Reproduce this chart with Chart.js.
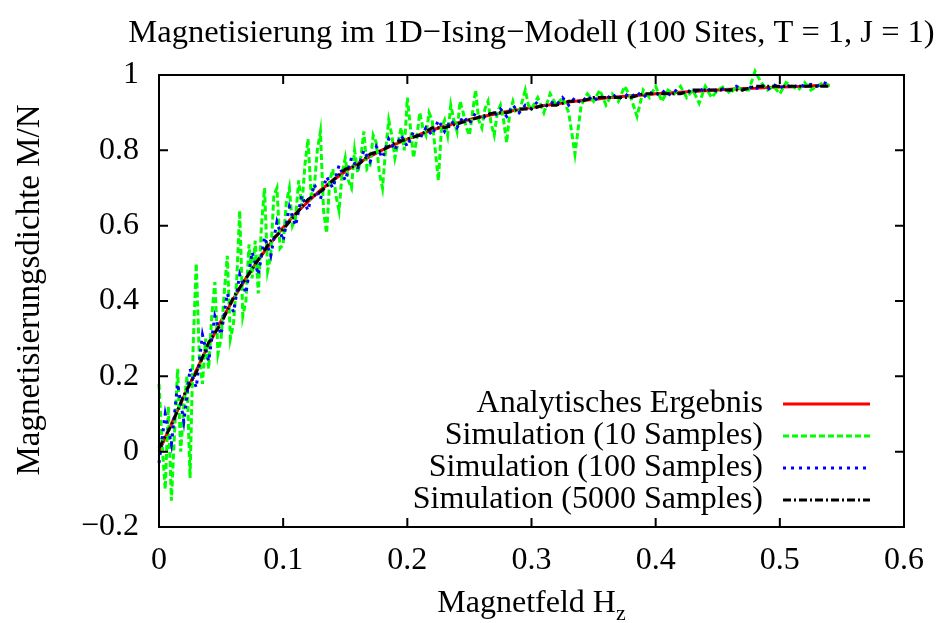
<!DOCTYPE html>
<html>
<head>
<meta charset="utf-8">
<script src="https://cdn.jsdelivr.net/npm/chart.js@4.4.0/dist/chart.umd.min.js"></script>
<style>
  html, body { margin: 0; padding: 0; background: #fff; }
  canvas { display: block; }
</style>
</head>
<body>
<canvas id="chart" width="938" height="623"></canvas>
<script>
// field values (H_z)
var hCoarse = [0,0.01,0.02,0.03,0.04,0.05,0.06,0.07,0.08,0.09,0.10,0.11,0.12,0.13,0.14,0.15,0.16,0.17,0.18,0.19,
  0.20,0.21,0.22,0.23,0.24,0.25,0.26,0.27,0.28,0.29,0.30,0.31,0.32,0.33,0.34,0.35,0.36,0.37,0.38,0.39,
  0.40,0.41,0.42,0.43,0.44,0.45,0.46,0.47,0.48,0.49,0.50,0.51,0.52,0.53,0.54];
var hFine = [0,0.005,0.01,0.015,0.02,0.025,0.03,0.035,0.04,0.045,0.05,0.055,0.06,0.065,0.07,0.075,0.08,0.085,0.09,0.095,
  0.10,0.105,0.11,0.115,0.12,0.125,0.13,0.135,0.14,0.145,0.15,0.155,0.16,0.165,0.17,0.175,0.18,0.185,0.19,0.195,
  0.20,0.205,0.21,0.215,0.22,0.225,0.23,0.235,0.24,0.245,0.25,0.255,0.26,0.265,0.27,0.275,0.28,0.285,0.29,0.295,
  0.30,0.305,0.31,0.315,0.32,0.325,0.33,0.335,0.34,0.345,0.35,0.355,0.36,0.365,0.37,0.375,0.38,0.385,0.39,0.395,
  0.40,0.405,0.41,0.415,0.42,0.425,0.43,0.435,0.44,0.445,0.45,0.455,0.46,0.465,0.47,0.475,0.48,0.485,0.49,0.495,
  0.50,0.505,0.51,0.515,0.52,0.525,0.53,0.535,0.54];
var hGreen = [0,0.0025,0.005,0.0075,0.01,0.0125,0.015,0.0175,0.02,0.0225,0.025,0.0275,0.03,0.0325,0.035,0.0375,
  0.04,0.0425,0.045,0.0475,0.05,0.0525,0.055,0.0575,0.06,0.0625,0.065,0.0675,0.07,0.0725,0.075,0.0775,
  0.08,0.0825,0.085,0.0875,0.09,0.0925,0.095,0.0975,0.10,0.1025,0.105,0.1075,0.11,0.1125,0.115,0.1175,
  0.12,0.1225,0.125,0.1275,0.13,0.1325,0.135,0.1375,0.14,0.1425,0.145,0.1475,0.15,0.1525,0.155,0.1575,
  0.16,0.1625,0.165,0.1675,0.17,0.1725,0.175,0.1775,0.18,0.1825,0.185,0.1875,0.19,0.1925,0.195,0.1975,
  0.20,0.2025,0.205,0.2075,0.21,0.2125,0.215,0.2175,0.22,0.2225,0.225,0.2275,0.23,0.2325,0.235,0.2375,
  0.24,0.2425,0.245,0.2475,0.25,0.2525,0.255,0.2575,0.26,0.2625,0.265,0.2675,0.27,0.2725,0.275,0.2775,
  0.28,0.2825,0.285,0.2875,0.29,0.2925,0.295,0.2975,0.30,
  0.305,0.31,0.315,0.32,0.325,0.33,0.335,0.34,0.345,0.35,0.355,0.36,0.365,0.37,0.375,0.38,0.385,0.39,0.395,
  0.40,0.405,0.41,0.415,0.42,0.425,0.43,0.435,0.44,0.445,0.45,0.455,0.46,0.465,0.47,0.475,0.48,0.485,0.49,0.495,
  0.50,0.505,0.51,0.515,0.52,0.525,0.53,0.535,0.54];

var analytic = [0,0.074,0.146,0.216,0.284,0.347,0.406,0.460,0.509,0.554,0.595,0.632,0.664,0.694,0.720,0.744,0.765,0.784,0.801,0.816,
  0.830,0.842,0.854,0.864,0.873,0.882,0.889,0.896,0.903,0.908,0.914,0.919,0.923,0.928,0.932,0.935,0.939,0.942,0.945,0.947,
  0.950,0.952,0.954,0.956,0.958,0.960,0.962,0.964,0.965,0.967,0.968,0.969,0.970,0.972,0.973];

var sim10 = [0.18,0.02,-0.10,0.12,-0.13,0.05,0.22,0.00,0.12,0.20,-0.07,0.28,0.50,0.25,0.18,0.30,
  0.22,0.36,0.45,0.26,0.30,0.42,0.52,0.30,0.34,0.45,0.64,0.36,0.40,0.55,0.46,0.56,
  0.42,0.60,0.70,0.48,0.52,0.68,0.70,0.54,0.55,0.66,0.70,0.60,0.62,0.72,0.65,0.76,
  0.83,0.68,0.70,0.80,0.85,0.64,0.58,0.72,0.75,0.68,0.64,0.74,0.78,0.72,0.70,0.80,
  0.74,0.78,0.85,0.75,0.76,0.84,0.82,0.74,0.70,0.80,0.88,0.84,0.78,0.82,0.86,0.80,
  0.94,0.86,0.78,0.83,0.90,0.86,0.84,0.90,0.88,0.80,0.72,0.86,0.88,0.84,0.92,0.88,
  0.85,0.93,0.90,0.86,0.84,0.90,0.96,0.88,0.86,0.91,0.93,0.87,0.84,0.90,0.92,0.88,
  0.82,0.90,0.93,0.90,0.90,0.93,0.96,0.92,0.91,
  0.94,0.90,0.95,0.92,0.94,0.90,0.79,0.92,0.95,0.93,0.96,0.92,0.95,0.93,0.97,0.94,0.89,0.96,0.94,
  0.97,0.93,0.96,0.95,0.97,0.94,0.96,0.925,0.97,0.94,0.96,0.97,0.95,0.97,0.96,0.96,1.01,0.98,0.96,0.97,
  0.95,0.98,0.97,0.96,0.98,0.96,0.97,0.98,0.97];

var sim100 = [-0.03,0.10,0.02,0.18,0.08,0.22,0.17,0.31,0.24,0.36,
  0.31,0.42,0.37,0.47,0.42,0.53,0.47,0.57,0.52,0.61,
  0.56,0.65,0.60,0.68,0.64,0.71,0.67,0.73,0.70,0.76,
  0.72,0.78,0.75,0.80,0.77,0.81,0.78,0.83,0.80,0.84,
  0.81,0.85,0.83,0.86,0.84,0.88,0.85,0.88,0.86,0.89,
  0.87,0.90,0.88,0.90,0.89,0.91,0.89,0.92,0.90,0.92,
  0.91,0.93,0.91,0.93,0.92,0.94,0.92,0.94,0.925,0.945,
  0.93,0.945,0.935,0.95,0.935,0.95,0.94,0.955,0.94,0.955,
  0.945,0.96,0.945,0.96,0.95,0.96,0.95,0.965,0.955,0.965,
  0.955,0.965,0.96,0.97,0.96,0.97,0.96,0.975,0.96,0.975,
  0.965,0.975,0.965,0.975,0.97,0.975,0.97,0.98,0.975];

var sim5000 = [0.01,0.07,0.15,0.21,0.29,0.34,0.41,0.46,0.51,0.56,0.59,0.63,0.67,0.69,0.72,0.75,0.76,0.79,0.80,0.82,
  0.83,0.84,0.86,0.86,0.87,0.88,0.89,0.90,0.90,0.91,0.91,0.92,0.92,0.93,0.93,0.94,0.94,0.94,0.94,0.95,
  0.95,0.95,0.95,0.96,0.96,0.96,0.96,0.96,0.97,0.97,0.97,0.97,0.97,0.97,0.97];

var xTicks = [0, 0.1, 0.2, 0.3, 0.4, 0.5, 0.6];
var yTicks = [-0.2, 0, 0.2, 0.4, 0.6, 0.8, 1];

var titleText = "Magnetisierung im 1D\u2212Ising\u2212Modell (100 Sites, T = 1, J = 1)";
var xLabel = "Magnetfeld H";
var xLabelSub = "z";
var yLabel = "Magnetisierungsdichte M/N";

var FONT = '"Liberation Serif", "Times New Roman", serif';

function pairs(xs, ys) {
  return xs.map(function (x, i) { return { x: x, y: ys[i] }; });
}

function fmt(v) {
  var r = Math.round(v * 10) / 10;
  if (r === 0) return "0";
  var s = String(Math.abs(r));
  return r < 0 ? "\u2212" + s : s;
}

// frame, inward ticks on all four sides, titles and legend, gnuplot style
var gnuplotDecor = {
  id: "gnuplotDecor",
  afterDraw: function (chart) {
    var ctx = chart.ctx;
    var a = chart.chartArea;
    var xs = chart.scales.x, ys = chart.scales.y;
    var tl = 9;
    ctx.save();
    ctx.strokeStyle = "#000";
    ctx.lineWidth = 2;
    ctx.setLineDash([]);
    ctx.strokeRect(a.left, a.top, a.right - a.left, a.bottom - a.top);
    ctx.beginPath();
    xTicks.forEach(function (v) {
      var px = xs.getPixelForValue(v);
      ctx.moveTo(px, a.bottom); ctx.lineTo(px, a.bottom - tl);
      ctx.moveTo(px, a.top); ctx.lineTo(px, a.top + tl);
    });
    yTicks.forEach(function (v) {
      var py = ys.getPixelForValue(v);
      ctx.moveTo(a.left, py); ctx.lineTo(a.left + tl, py);
      ctx.moveTo(a.right, py); ctx.lineTo(a.right - tl, py);
    });
    ctx.stroke();

    ctx.fillStyle = "#000";
    ctx.font = "32.5px " + FONT;
    ctx.textAlign = "center";
    ctx.textBaseline = "middle";
    ctx.fillText(titleText, (a.left + a.right) / 2, 33);

    // x axis label with subscript
    ctx.textBaseline = "alphabetic";
    ctx.textAlign = "left";
    ctx.font = "32px " + FONT;
    var w1 = ctx.measureText(xLabel).width;
    ctx.font = "22px " + FONT;
    var w2 = ctx.measureText(xLabelSub).width;
    var x0 = (a.left + a.right) / 2 - (w1 + w2) / 2;
    ctx.font = "32px " + FONT;
    ctx.fillText(xLabel, x0, 612);
    ctx.font = "22px " + FONT;
    ctx.fillText(xLabelSub, x0 + w1, 620);

    // y axis label
    ctx.font = "33px " + FONT;
    ctx.save();
    ctx.translate(30, 290);
    ctx.rotate(-Math.PI / 2);
    ctx.textAlign = "center";
    ctx.textBaseline = "middle";
    ctx.fillText(yLabel, 0, 0);
    ctx.restore();

    // legend
    var rowY = [404, 436, 468, 500];
    chart.data.datasets.forEach(function (ds, i) {
      var y = rowY[i];
      ctx.font = "32px " + FONT;
      ctx.textAlign = "right";
      ctx.textBaseline = "middle";
      ctx.fillStyle = "#000";
      ctx.fillText(ds.label, 763, y);
      ctx.beginPath();
      ctx.strokeStyle = ds.borderColor;
      ctx.lineWidth = ds.borderWidth;
      ctx.setLineDash(ds.borderDash || []);
      ctx.moveTo(783, y);
      ctx.lineTo(870, y);
      ctx.stroke();
    });
    ctx.restore();
  }
};

new Chart(document.getElementById("chart"), {
  type: "line",
  data: {
    datasets: [{
      label: "Analytisches Ergebnis",
      data: pairs(hCoarse, analytic),
      borderColor: "#ff0000",
      borderWidth: 3,
      order: 3
    }, {
      label: "Simulation (10 Samples)",
      data: pairs(hGreen, sim10),
      borderColor: "#00ff00",
      borderWidth: 3,
      borderDash: [6, 3],
      order: 2
    }, {
      label: "Simulation (100 Samples)",
      data: pairs(hFine, sim100),
      borderColor: "#0000ff",
      borderWidth: 3,
      borderDash: [3, 5],
      order: 1
    }, {
      label: "Simulation (5000 Samples)",
      data: pairs(hCoarse, sim5000),
      borderColor: "#000000",
      borderWidth: 3,
      borderDash: [8, 3, 2, 3],
      order: 0
    }]
  },
  options: {
    responsive: false,
    animation: false,
    devicePixelRatio: 1,
    layout: { padding: { top: 75, right: 30, left: 0, bottom: 0 } },
    elements: { point: { radius: 0 }, line: { tension: 0, fill: false } },
    datasets: { line: { clip: 10 } },
    plugins: { legend: { display: false }, title: { display: false }, tooltip: { enabled: false } },
    scales: {
      x: {
        type: "linear",
        min: 0,
        max: 0.6,
        afterFit: function (s) { s.height = 96; },
        afterBuildTicks: function (s) { s.ticks = xTicks.map(function (v) { return { value: v }; }); },
        grid: { display: false, drawTicks: false },
        border: { display: false },
        ticks: {
          autoSkip: false,
          maxRotation: 0,
          padding: 14,
          color: "#000",
          font: { family: FONT, size: 32 },
          callback: function (v) { return fmt(v); }
        }
      },
      y: {
        type: "linear",
        min: -0.2,
        max: 1,
        afterFit: function (s) { s.width = 159; },
        afterBuildTicks: function (s) { s.ticks = yTicks.map(function (v) { return { value: v }; }); },
        grid: { display: false, drawTicks: false },
        border: { display: false },
        ticks: {
          autoSkip: false,
          padding: 20,
          color: "#000",
          font: { family: FONT, size: 32 },
          callback: function (v) { return fmt(v); }
        }
      }
    }
  },
  plugins: [gnuplotDecor]
});
</script>
</body>
</html>
